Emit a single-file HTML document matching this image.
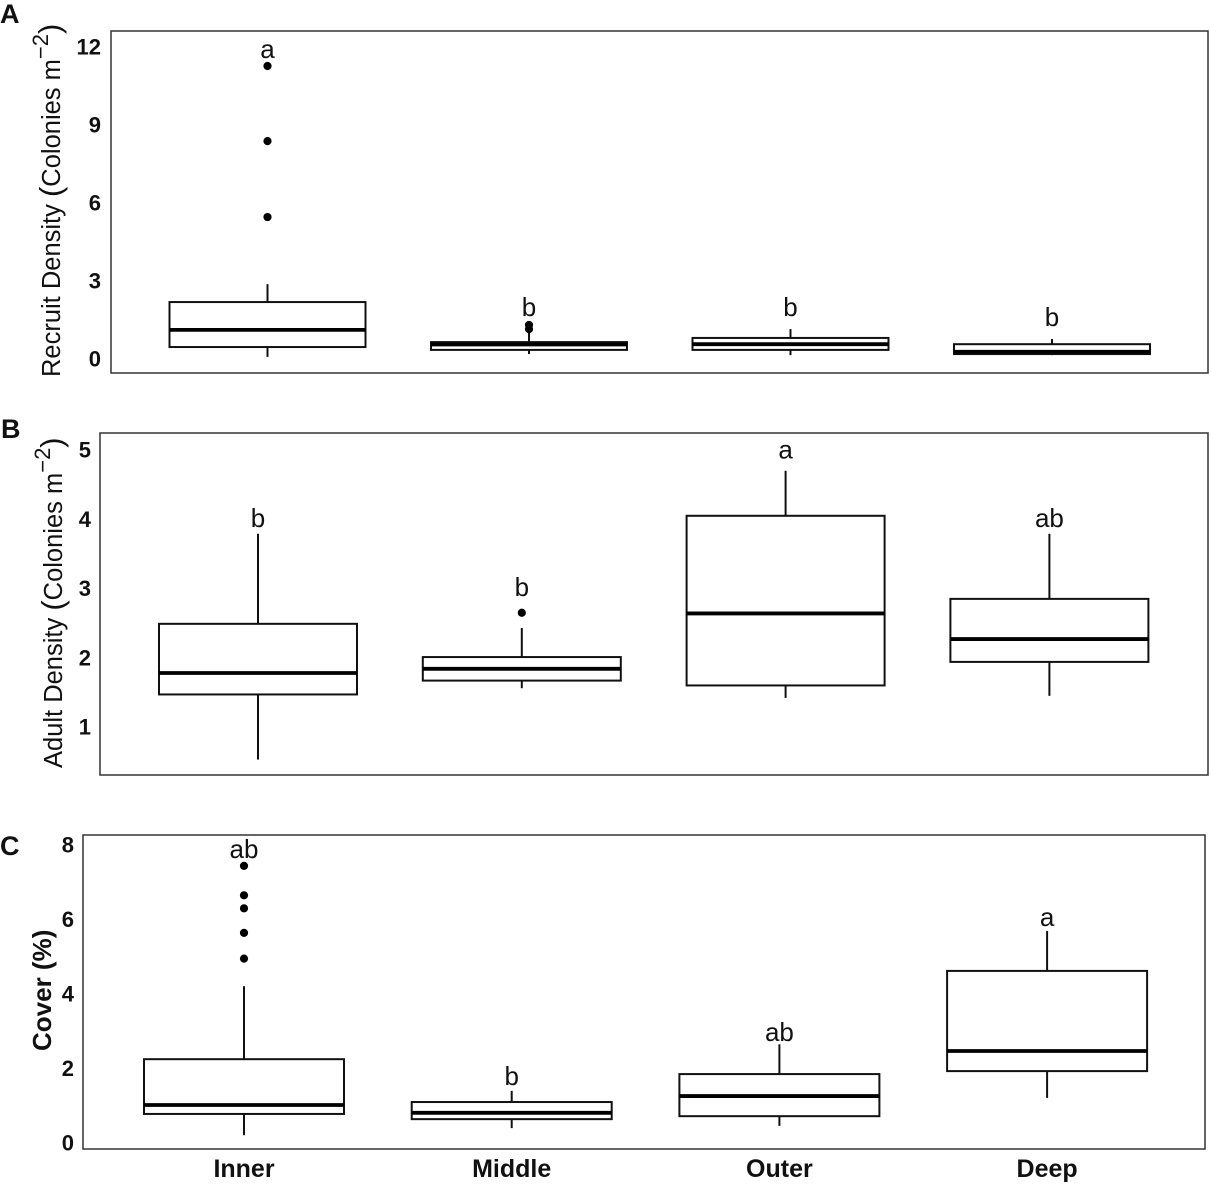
<!DOCTYPE html>
<html>
<head>
<meta charset="utf-8">
<title>Recruit density, adult density and cover by zone</title>
<style>
html,body{margin:0;padding:0;background:#fff;}
svg{display:block;}
text{font-family:"Liberation Sans",Arial,sans-serif;fill:#111;}
</style>
</head>
<body>
<svg id="chart" width="1211" height="1185" viewBox="0 0 1211 1185" xmlns="http://www.w3.org/2000/svg">
  <text x="0" y="23" font-size="27" font-weight="bold">A</text>
  <text x="1" y="438" font-size="27" font-weight="bold">B</text>
  <text x="0" y="855" font-size="27" font-weight="bold">C</text>

  <text transform="translate(60,377) rotate(-90)" font-size="25.5">Recruit Density <tspan font-size="31" dy="1">(</tspan><tspan dy="-1">Colonies m</tspan><tspan dy="-12" font-size="22">−2</tspan><tspan dy="12" font-size="31">)</tspan></text>
  <text transform="translate(62,768) rotate(-90)" font-size="25.5">Adult Density <tspan font-size="31" dy="1">(</tspan><tspan dy="-1">Colonies m</tspan><tspan dy="-12" font-size="22">−2</tspan><tspan dy="12" font-size="31">)</tspan></text>
  <text transform="translate(51,1051) rotate(-90)" font-size="26" font-weight="bold">Cover (%)</text>
</svg>
<script>
// Zone categories along the shared x axis
const categories = ['Inner', 'Middle', 'Outer', 'Deep'];

// Panel A: recruit density
const aTicks = [0, 3, 6, 9, 12];
const aUpperQuartile = [2.19, 0.65, 0.81, 0.57];
const aLowerQuartile = [0.46, 0.35, 0.35, 0.19];
const aMedian = [1.12, 0.56, 0.57, 0.28];
const aWhiskerHigh = [2.88, 1.00, 1.15, 0.77];
const aWhiskerLow = [0.08, 0.19, 0.15, 0.15];
const aOutliers = [[5.46, 8.38, 11.27], [1.15, 1.31], [], []];
const aLetters = ['a', 'b', 'b', 'b'];
const aLetterLevels = [11.58, 1.65, 1.65, 1.27];

// Panel B: adult density
const bTicks = [1, 2, 3, 4, 5];
const bUpperQuartile = [2.49, 2.01, 4.05, 2.85];
const bLowerQuartile = [1.47, 1.67, 1.60, 1.94];
const bMedian = [1.78, 1.84, 2.64, 2.27];
const bWhiskerHigh = [3.79, 2.43, 4.70, 3.79];
const bWhiskerLow = [0.53, 1.56, 1.42, 1.45];
const bOutliers = [[], [2.65], [], []];
const bLetters = ['b', 'b', 'a', 'ab'];
const bLetterLevels = [3.89, 2.89, 4.88, 3.89];

// Panel C: cover
const cTicks = [0, 2, 4, 6, 8];
const cUpperQuartile = [2.25, 1.10, 1.85, 4.62];
const cLowerQuartile = [0.78, 0.64, 0.72, 1.93];
const cMedian = [1.02, 0.81, 1.26, 2.47];
const cWhiskerHigh = [4.21, 1.40, 2.65, 5.69];
const cWhiskerLow = [0.21, 0.40, 0.46, 1.21];
const cOutliers = [[4.95, 5.64, 6.30, 6.65, 7.44], [], [], []];
const cLetters = ['ab', 'b', 'ab', 'a'];
const cLetterLevels = [7.65, 1.56, 2.74, 5.83];

const svg = document.getElementById('chart');
const NS = 'http://www.w3.org/2000/svg';

function make(tag, attrs) {
  const el = document.createElementNS(NS, tag);
  Object.keys(attrs).forEach(k => el.setAttribute(k, attrs[k]));
  svg.appendChild(el);
  return el;
}

function drawPanel(p) {
  const yScale = v => p.y0 - v * p.unit;
  const xScale = i => p.firstX + i * p.stepX;

  const frame = make('rect', { x: p.left, y: p.top, width: p.right - p.left, height: p.bottom - p.top, fill: 'none', stroke: '#333', 'stroke-width': 1.5 });
  
  

  p.ticks.forEach(t => {
    const label = make('text', { x: p.tickX, y: yScale(t) + 7.5, 'text-anchor': 'end', 'font-size': 22, 'font-weight': 'bold' });
    label.textContent = t;
    
    
  });

  categories.forEach((cat, i) => {
    const cx = xScale(i);
    const key = p.id + '-' + cat.toLowerCase();
    const half = p.boxWidth / 2;

    const upper = make('line', { x1: cx, x2: cx, y1: yScale(p.q3[i]), y2: yScale(p.hi[i]), stroke: '#111', 'stroke-width': 2 });
    
    

    const lower = make('line', { x1: cx, x2: cx, y1: yScale(p.q1[i]), y2: yScale(p.lo[i]), stroke: '#111', 'stroke-width': 2 });
    
    

    const box = make('rect', { x: cx - half, y: yScale(p.q3[i]), width: p.boxWidth, height: yScale(p.q1[i]) - yScale(p.q3[i]), fill: '#fff', stroke: '#111', 'stroke-width': 2 });
    
    

    const median = make('line', { x1: cx - half, x2: cx + half, y1: yScale(p.med[i]), y2: yScale(p.med[i]), stroke: '#000', 'stroke-width': 3.8 });
    
    

    p.out[i].forEach(v => {
      const dot = make('circle', { cx: cx, cy: yScale(v), r: 4.1, fill: '#000' });
      
      
    });

    const letter = make('text', { x: cx, y: yScale(p.levels[i]), 'text-anchor': 'middle', 'font-size': 26 });
    letter.textContent = p.letters[i];
    
    

    if (p.showCategories) {
      const catLabel = make('text', { x: cx, y: 1177, 'text-anchor': 'middle', 'font-size': 25, 'font-weight': 'bold' });
      catLabel.textContent = cat;
      
      
    }
  });
}

drawPanel({ id: 'a', left: 111, top: 31, right: 1208, bottom: 373, y0: 359, unit: 26, firstX: 267.5, stepX: 261.5, boxWidth: 196, tickX: 101, ticks: aTicks, q3: aUpperQuartile, q1: aLowerQuartile, med: aMedian, hi: aWhiskerHigh, lo: aWhiskerLow, out: aOutliers, letters: aLetters, levels: aLetterLevels, showCategories: false });
drawPanel({ id: 'b', left: 100, top: 433, right: 1208, bottom: 775, y0: 796.25, unit: 69.25, firstX: 258, stepX: 263.8, boxWidth: 198, tickX: 91, ticks: bTicks, q3: bUpperQuartile, q1: bLowerQuartile, med: bMedian, hi: bWhiskerHigh, lo: bWhiskerLow, out: bOutliers, letters: bLetters, levels: bLetterLevels, showCategories: false });
drawPanel({ id: 'c', left: 83, top: 835, right: 1205, bottom: 1149, y0: 1143, unit: 37.25, firstX: 244, stepX: 267.7, boxWidth: 200, tickX: 74, ticks: cTicks, q3: cUpperQuartile, q1: cLowerQuartile, med: cMedian, hi: cWhiskerHigh, lo: cWhiskerLow, out: cOutliers, letters: cLetters, levels: cLetterLevels, showCategories: true });
</script>
</body>
</html>
